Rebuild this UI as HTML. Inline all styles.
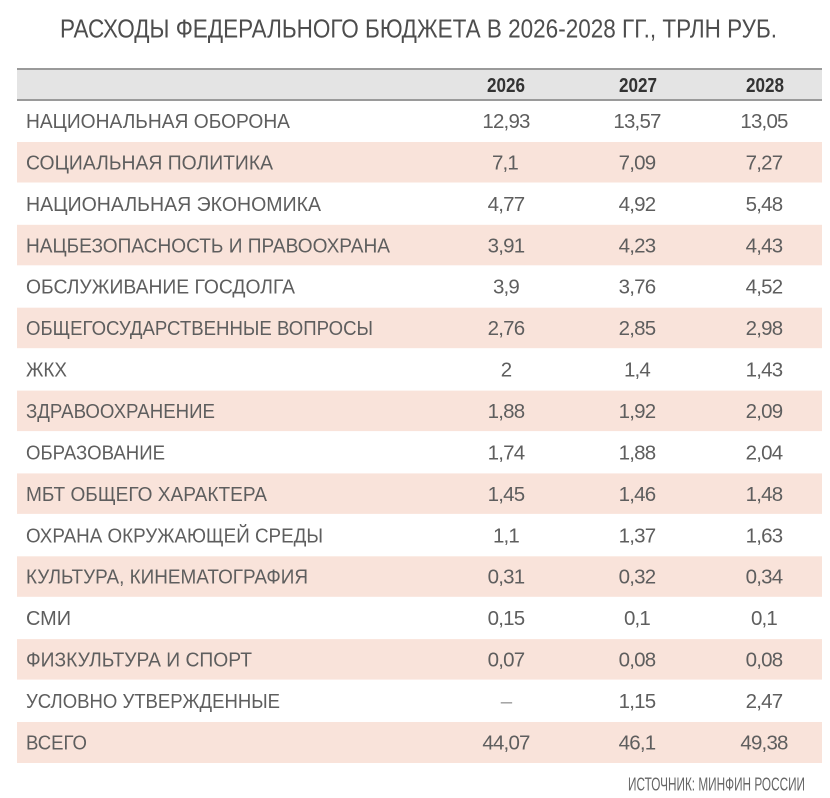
<!DOCTYPE html>
<html><head><meta charset="utf-8">
<style>
html,body{margin:0;padding:0;background:#fff;}
svg{display:block;}
text{font-family:"Liberation Sans","Noto Sans CJK SC",sans-serif;}
.l{font-size:20.5px;fill:#5e5e5e;}
.n{font-size:20.5px;fill:#5e5e5e;text-anchor:middle;letter-spacing:-0.8px;}
.h{font-size:20px;font-weight:bold;fill:#333;text-anchor:middle;}
</style></head>
<body>
<svg width="830" height="798" viewBox="0 0 830 798" xmlns="http://www.w3.org/2000/svg">
<rect width="830" height="798" fill="#fff"/>
<text x="60" y="37.5" style="font-size:26px;fill:#4d4d4d" textLength="717" lengthAdjust="spacingAndGlyphs">РАСХОДЫ ФЕДЕРАЛЬНОГО БЮДЖЕТА В 2026-2028 ГГ., ТРЛН РУБ.</text>

<rect x="17" y="69" width="805" height="31" fill="#e4e4e4"/>
<rect x="17" y="68" width="805" height="2" fill="#9a9a9a"/>
<rect x="17" y="99" width="805" height="2" fill="#9a9a9a"/>
<text class="h" x="506" y="92" textLength="38" lengthAdjust="spacingAndGlyphs">2026</text>
<text class="h" x="638" y="92" textLength="38" lengthAdjust="spacingAndGlyphs">2027</text>
<text class="h" x="765" y="92" textLength="38" lengthAdjust="spacingAndGlyphs">2028</text>

<g fill="#f9e3da">
<rect x="17" y="142" width="805" height="40.5"/>
<rect x="17" y="224.8" width="805" height="40.5"/>
<rect x="17" y="307.7" width="805" height="40.5"/>
<rect x="17" y="390.6" width="805" height="40.5"/>
<rect x="17" y="473.4" width="805" height="40.5"/>
<rect x="17" y="556.3" width="805" height="40.5"/>
<rect x="17" y="639.1" width="805" height="40.5"/>
<rect x="17" y="722" width="805" height="41"/>
</g>

<text class="l" x="26" y="128" textLength="264" lengthAdjust="spacingAndGlyphs">НАЦИОНАЛЬНАЯ ОБОРОНА</text>
<text class="n" x="506" y="128">12,93</text><text class="n" x="637" y="128">13,57</text><text class="n" x="764" y="128">13,05</text>

<text class="l" x="26" y="169.4" textLength="247" lengthAdjust="spacingAndGlyphs">СОЦИАЛЬНАЯ ПОЛИТИКА</text>
<text class="n" x="505" y="169.4">7,1</text><text class="n" x="637" y="169.4">7,09</text><text class="n" x="764" y="169.4">7,27</text>

<text class="l" x="26" y="210.9" textLength="295" lengthAdjust="spacingAndGlyphs">НАЦИОНАЛЬНАЯ ЭКОНОМИКА</text>
<text class="n" x="506" y="210.9">4,77</text><text class="n" x="637" y="210.9">4,92</text><text class="n" x="764" y="210.9">5,48</text>

<text class="l" x="26" y="252.3" textLength="364" lengthAdjust="spacingAndGlyphs">НАЦБЕЗОПАСНОСТЬ И ПРАВООХРАНА</text>
<text class="n" x="506" y="252.3">3,91</text><text class="n" x="637" y="252.3">4,23</text><text class="n" x="764" y="252.3">4,43</text>

<text class="l" x="26" y="293.7" textLength="269" lengthAdjust="spacingAndGlyphs">ОБСЛУЖИВАНИЕ ГОСДОЛГА</text>
<text class="n" x="506" y="293.7">3,9</text><text class="n" x="637" y="293.7">3,76</text><text class="n" x="764" y="293.7">4,52</text>

<text class="l" x="26" y="335.2" textLength="347" lengthAdjust="spacingAndGlyphs">ОБЩЕГОСУДАРСТВЕННЫЕ ВОПРОСЫ</text>
<text class="n" x="506" y="335.2">2,76</text><text class="n" x="637" y="335.2">2,85</text><text class="n" x="764" y="335.2">2,98</text>

<text class="l" x="26" y="376.6" textLength="41" lengthAdjust="spacingAndGlyphs">ЖКХ</text>
<text class="n" x="506" y="376.6">2</text><text class="n" x="637" y="376.6">1,4</text><text class="n" x="764" y="376.6">1,43</text>

<text class="l" x="26" y="418" textLength="189" lengthAdjust="spacingAndGlyphs">ЗДРАВООХРАНЕНИЕ</text>
<text class="n" x="506" y="418">1,88</text><text class="n" x="637" y="418">1,92</text><text class="n" x="764" y="418">2,09</text>

<text class="l" x="26" y="459.4" textLength="139" lengthAdjust="spacingAndGlyphs">ОБРАЗОВАНИЕ</text>
<text class="n" x="506" y="459.4">1,74</text><text class="n" x="637" y="459.4">1,88</text><text class="n" x="764" y="459.4">2,04</text>

<text class="l" x="26" y="500.9" textLength="241" lengthAdjust="spacingAndGlyphs">МБТ ОБЩЕГО ХАРАКТЕРА</text>
<text class="n" x="506" y="500.9">1,45</text><text class="n" x="637" y="500.9">1,46</text><text class="n" x="764" y="500.9">1,48</text>

<text class="l" x="26" y="542.3" textLength="297" lengthAdjust="spacingAndGlyphs">ОХРАНА ОКРУЖАЮЩЕЙ СРЕДЫ</text>
<text class="n" x="506" y="542.3">1,1</text><text class="n" x="637" y="542.3">1,37</text><text class="n" x="764" y="542.3">1,63</text>

<text class="l" x="26" y="583.7" textLength="282" lengthAdjust="spacingAndGlyphs">КУЛЬТУРА, КИНЕМАТОГРАФИЯ</text>
<text class="n" x="506" y="583.7">0,31</text><text class="n" x="637" y="583.7">0,32</text><text class="n" x="764" y="583.7">0,34</text>

<text class="l" x="26" y="625.2" textLength="45" lengthAdjust="spacingAndGlyphs">СМИ</text>
<text class="n" x="506" y="625.2">0,15</text><text class="n" x="637" y="625.2">0,1</text><text class="n" x="764" y="625.2">0,1</text>

<text class="l" x="26" y="666.6" textLength="226" lengthAdjust="spacingAndGlyphs">ФИЗКУЛЬТУРА И СПОРТ</text>
<text class="n" x="506" y="666.6">0,07</text><text class="n" x="637" y="666.6">0,08</text><text class="n" x="764" y="666.6">0,08</text>

<text class="l" x="26" y="708" textLength="254" lengthAdjust="spacingAndGlyphs">УСЛОВНО УТВЕРЖДЕННЫЕ</text>
<text class="n" x="506" y="708" style="fill:#999">–</text><text class="n" x="637" y="708">1,15</text><text class="n" x="764" y="708">2,47</text>

<text class="l" x="26" y="749.5" textLength="61" lengthAdjust="spacingAndGlyphs">ВСЕГО</text>
<text class="n" x="506" y="749.5">44,07</text><text class="n" x="637" y="749.5">46,1</text><text class="n" x="764" y="749.5">49,38</text>

<text x="628" y="790.5" style="font-size:18.5px;fill:#666" textLength="177" lengthAdjust="spacingAndGlyphs">ИСТОЧНИК: МИНФИН РОССИИ</text>
</svg>
</body></html>
